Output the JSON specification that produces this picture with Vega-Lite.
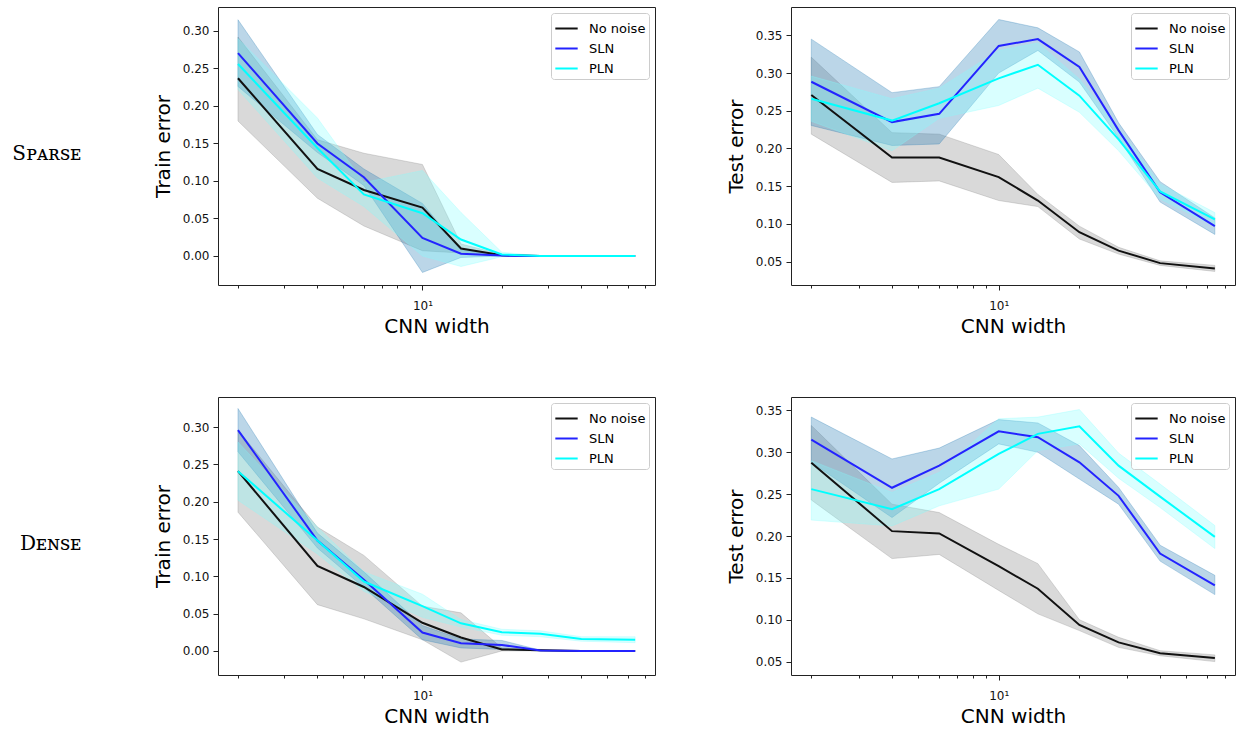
{
  "$schema": "https://vega.github.io/schema/vega-lite/v6.json",
  "padding": {"left": 11, "top": 6, "right": 0, "bottom": 3},
  "background": "white",
  "datasets": {
    "d": [
      {"p":"a","m":"No noise","w":2,"y":0.237,"lo":0.180,"hi":0.292},
      {"p":"a","m":"No noise","w":4,"y":0.116,"lo":0.077,"hi":0.155},
      {"p":"a","m":"No noise","w":6,"y":0.088,"lo":0.040,"hi":0.137},
      {"p":"a","m":"No noise","w":10,"y":0.0645,"lo":0.007,"hi":0.122},
      {"p":"a","m":"No noise","w":14,"y":0.010,"lo":0.004,"hi":0.016},
      {"p":"a","m":"No noise","w":20,"y":0.001,"lo":0.0,"hi":0.002},
      {"p":"a","m":"No noise","w":28,"y":0,"lo":0,"hi":0},
      {"p":"a","m":"No noise","w":40,"y":0,"lo":0,"hi":0},
      {"p":"a","m":"No noise","w":64,"y":0,"lo":0,"hi":0},
      {"p":"a","m":"SLN","w":2,"y":0.2706,"lo":0.226,"hi":0.315},
      {"p":"a","m":"SLN","w":4,"y":0.150,"lo":0.138,"hi":0.162},
      {"p":"a","m":"SLN","w":6,"y":0.105,"lo":0.094,"hi":0.116},
      {"p":"a","m":"SLN","w":10,"y":0.024,"lo":-0.022,"hi":0.070},
      {"p":"a","m":"SLN","w":14,"y":0.003,"lo":-0.002,"hi":0.008},
      {"p":"a","m":"SLN","w":20,"y":0.0005,"lo":0,"hi":0.001},
      {"p":"a","m":"SLN","w":28,"y":0,"lo":0,"hi":0},
      {"p":"a","m":"SLN","w":40,"y":0,"lo":0,"hi":0},
      {"p":"a","m":"SLN","w":64,"y":0,"lo":0,"hi":0},
      {"p":"a","m":"PLN","w":2,"y":0.256,"lo":0.222,"hi":0.290},
      {"p":"a","m":"PLN","w":4,"y":0.144,"lo":0.104,"hi":0.184},
      {"p":"a","m":"PLN","w":6,"y":0.082,"lo":0.066,"hi":0.098},
      {"p":"a","m":"PLN","w":10,"y":0.057,"lo":0.000,"hi":0.114},
      {"p":"a","m":"PLN","w":14,"y":0.022,"lo":-0.014,"hi":0.058},
      {"p":"a","m":"PLN","w":20,"y":0.002,"lo":-0.001,"hi":0.005},
      {"p":"a","m":"PLN","w":28,"y":0,"lo":0,"hi":0},
      {"p":"a","m":"PLN","w":40,"y":0,"lo":0,"hi":0},
      {"p":"a","m":"PLN","w":64,"y":0,"lo":0,"hi":0},

      {"p":"b","m":"No noise","w":2,"y":0.271,"lo":0.219,"hi":0.321},
      {"p":"b","m":"No noise","w":4,"y":0.188,"lo":0.155,"hi":0.221},
      {"p":"b","m":"No noise","w":6,"y":0.188,"lo":0.157,"hi":0.219},
      {"p":"b","m":"No noise","w":10,"y":0.162,"lo":0.131,"hi":0.192},
      {"p":"b","m":"No noise","w":14,"y":0.131,"lo":0.123,"hi":0.139},
      {"p":"b","m":"No noise","w":20,"y":0.089,"lo":0.080,"hi":0.097},
      {"p":"b","m":"No noise","w":28,"y":0.0646,"lo":0.060,"hi":0.069},
      {"p":"b","m":"No noise","w":40,"y":0.048,"lo":0.045,"hi":0.051},
      {"p":"b","m":"No noise","w":64,"y":0.041,"lo":0.037,"hi":0.045},
      {"p":"b","m":"SLN","w":2,"y":0.2885,"lo":0.2305,"hi":0.345},
      {"p":"b","m":"SLN","w":4,"y":0.235,"lo":0.204,"hi":0.274},
      {"p":"b","m":"SLN","w":6,"y":0.246,"lo":0.206,"hi":0.282},
      {"p":"b","m":"SLN","w":10,"y":0.336,"lo":0.300,"hi":0.371},
      {"p":"b","m":"SLN","w":14,"y":0.345,"lo":0.330,"hi":0.360},
      {"p":"b","m":"SLN","w":20,"y":0.308,"lo":0.288,"hi":0.328},
      {"p":"b","m":"SLN","w":28,"y":0.224,"lo":0.214,"hi":0.234},
      {"p":"b","m":"SLN","w":40,"y":0.142,"lo":0.129,"hi":0.156},
      {"p":"b","m":"SLN","w":64,"y":0.097,"lo":0.086,"hi":0.108},
      {"p":"b","m":"PLN","w":2,"y":0.266,"lo":0.236,"hi":0.296},
      {"p":"b","m":"PLN","w":4,"y":0.237,"lo":0.197,"hi":0.266},
      {"p":"b","m":"PLN","w":6,"y":0.260,"lo":0.240,"hi":0.280},
      {"p":"b","m":"PLN","w":10,"y":0.293,"lo":0.257,"hi":0.330},
      {"p":"b","m":"PLN","w":14,"y":0.311,"lo":0.280,"hi":0.340},
      {"p":"b","m":"PLN","w":20,"y":0.270,"lo":0.248,"hi":0.292},
      {"p":"b","m":"PLN","w":28,"y":0.212,"lo":0.197,"hi":0.227},
      {"p":"b","m":"PLN","w":40,"y":0.143,"lo":0.133,"hi":0.153},
      {"p":"b","m":"PLN","w":64,"y":0.106,"lo":0.097,"hi":0.115},

      {"p":"c","m":"No noise","w":2,"y":0.241,"lo":0.186,"hi":0.296},
      {"p":"c","m":"No noise","w":4,"y":0.114,"lo":0.062,"hi":0.166},
      {"p":"c","m":"No noise","w":6,"y":0.0857,"lo":0.043,"hi":0.128},
      {"p":"c","m":"No noise","w":10,"y":0.0377,"lo":0.015,"hi":0.060},
      {"p":"c","m":"No noise","w":14,"y":0.018,"lo":-0.015,"hi":0.051},
      {"p":"c","m":"No noise","w":20,"y":0.002,"lo":0,"hi":0.004},
      {"p":"c","m":"No noise","w":28,"y":0.001,"lo":0,"hi":0.002},
      {"p":"c","m":"No noise","w":40,"y":0,"lo":0,"hi":0},
      {"p":"c","m":"No noise","w":64,"y":0,"lo":0,"hi":0},
      {"p":"c","m":"SLN","w":2,"y":0.296,"lo":0.267,"hi":0.325},
      {"p":"c","m":"SLN","w":4,"y":0.148,"lo":0.138,"hi":0.158},
      {"p":"c","m":"SLN","w":6,"y":0.0955,"lo":0.085,"hi":0.106},
      {"p":"c","m":"SLN","w":10,"y":0.0247,"lo":0.015,"hi":0.034},
      {"p":"c","m":"SLN","w":14,"y":0.0103,"lo":0.004,"hi":0.016},
      {"p":"c","m":"SLN","w":20,"y":0.008,"lo":0.002,"hi":0.014},
      {"p":"c","m":"SLN","w":28,"y":0.0005,"lo":0,"hi":0.001},
      {"p":"c","m":"SLN","w":40,"y":0,"lo":0,"hi":0},
      {"p":"c","m":"SLN","w":64,"y":0,"lo":0,"hi":0},
      {"p":"c","m":"PLN","w":2,"y":0.241,"lo":0.202,"hi":0.280},
      {"p":"c","m":"PLN","w":4,"y":0.148,"lo":0.130,"hi":0.166},
      {"p":"c","m":"PLN","w":6,"y":0.093,"lo":0.080,"hi":0.106},
      {"p":"c","m":"PLN","w":10,"y":0.060,"lo":0.045,"hi":0.076},
      {"p":"c","m":"PLN","w":14,"y":0.037,"lo":0.032,"hi":0.042},
      {"p":"c","m":"PLN","w":20,"y":0.025,"lo":0.021,"hi":0.029},
      {"p":"c","m":"PLN","w":28,"y":0.023,"lo":0.019,"hi":0.027},
      {"p":"c","m":"PLN","w":40,"y":0.016,"lo":0.013,"hi":0.019},
      {"p":"c","m":"PLN","w":64,"y":0.015,"lo":0.011,"hi":0.019},

      {"p":"d","m":"No noise","w":2,"y":0.2875,"lo":0.243,"hi":0.332},
      {"p":"d","m":"No noise","w":4,"y":0.2058,"lo":0.173,"hi":0.238},
      {"p":"d","m":"No noise","w":6,"y":0.203,"lo":0.178,"hi":0.228},
      {"p":"d","m":"No noise","w":10,"y":0.164,"lo":0.135,"hi":0.190},
      {"p":"d","m":"No noise","w":14,"y":0.137,"lo":0.107,"hi":0.167},
      {"p":"d","m":"No noise","w":20,"y":0.0938,"lo":0.087,"hi":0.100},
      {"p":"d","m":"No noise","w":28,"y":0.073,"lo":0.067,"hi":0.079},
      {"p":"d","m":"No noise","w":40,"y":0.060,"lo":0.057,"hi":0.063},
      {"p":"d","m":"No noise","w":64,"y":0.0544,"lo":0.050,"hi":0.058},
      {"p":"d","m":"SLN","w":2,"y":0.315,"lo":0.288,"hi":0.342},
      {"p":"d","m":"SLN","w":4,"y":0.2576,"lo":0.222,"hi":0.292},
      {"p":"d","m":"SLN","w":6,"y":0.284,"lo":0.263,"hi":0.305},
      {"p":"d","m":"SLN","w":10,"y":0.325,"lo":0.310,"hi":0.339},
      {"p":"d","m":"SLN","w":14,"y":0.318,"lo":0.300,"hi":0.335},
      {"p":"d","m":"SLN","w":20,"y":0.288,"lo":0.268,"hi":0.308},
      {"p":"d","m":"SLN","w":28,"y":0.248,"lo":0.238,"hi":0.258},
      {"p":"d","m":"SLN","w":40,"y":0.179,"lo":0.170,"hi":0.189},
      {"p":"d","m":"SLN","w":64,"y":0.141,"lo":0.130,"hi":0.153},
      {"p":"d","m":"PLN","w":2,"y":0.256,"lo":0.219,"hi":0.290},
      {"p":"d","m":"PLN","w":4,"y":0.232,"lo":0.212,"hi":0.252},
      {"p":"d","m":"PLN","w":6,"y":0.256,"lo":0.236,"hi":0.276},
      {"p":"d","m":"PLN","w":10,"y":0.298,"lo":0.256,"hi":0.340},
      {"p":"d","m":"PLN","w":14,"y":0.322,"lo":0.302,"hi":0.342},
      {"p":"d","m":"PLN","w":20,"y":0.331,"lo":0.310,"hi":0.351},
      {"p":"d","m":"PLN","w":28,"y":0.284,"lo":0.269,"hi":0.299},
      {"p":"d","m":"PLN","w":40,"y":0.247,"lo":0.234,"hi":0.262},
      {"p":"d","m":"PLN","w":64,"y":0.199,"lo":0.185,"hi":0.2125}
    ]
  },
  "data": {"name": "d"},
  "spacing": 59,
  "resolve": {"legend": {"color": "independent"}},
  "vconcat": [
    {
      "spacing": 69,
      "resolve": {"legend": {"color": "independent"}},
      "hconcat": [
        {
          "width": 437, "height": 278,
          "title": {"text": "Sᴘᴀʀsᴇ", "orient": "left", "angle": 0, "align": "left", "baseline": "alphabetic", "anchor": "middle", "frame": "group", "offset": 72, "dy": 14, "font": "DejaVu Serif", "fontSize": 20, "fontWeight": "normal", "color": "#000"},
          "transform": [{"filter": "datum.p == 'a'"}],
          "encoding": {"x": {"field": "w", "type": "quantitative", "title": "CNN width", "scale": {"type": "log", "domain": [1.68, 76.1], "nice": false},
            "axis": {"values": [2,3,4,5,6,7,8,9,10,20,30,40,50,60,70], "labelExpr": "datum.value == 10 ? '10¹' : ''", "tickSize": {"condition": {"test": "datum.value == 10", "value": 5}, "value": 3}, "labelOverlap": false, "labelFlush": false, "labelPadding": 10, "titlePadding": 5}}},
          "layer": [
            {"mark": {"type": "area", "clip": true, "strokeWidth": 0.8, "fillOpacity": 0.3, "strokeOpacity": 0.35},
             "encoding": {
               "y": {"field": "lo", "type": "quantitative", "title": "Train error", "scale": {"domain": [-0.0387, 0.332], "nice": false, "zero": false}, "axis": {"values": [0,0.05,0.1,0.15,0.2,0.25,0.3], "format": ".2f"}},
               "y2": {"field": "hi"},
               "fill": {"field": "m", "type": "nominal", "scale": {"domain": ["No noise","SLN","PLN"], "range": ["#808080","#1f77b4","#80ffff"]}, "legend": null},
               "stroke": {"field": "m", "type": "nominal", "scale": {"domain": ["No noise","SLN","PLN"], "range": ["#808080","#1f77b4","#80ffff"]}, "legend": null}
             }},
            {"mark": {"type": "line", "strokeWidth": 2, "clip": true},
             "encoding": {
               "y": {"field": "y", "type": "quantitative", "title": "Train error"},
               "color": {"field": "m", "type": "nominal", "scale": {"domain": ["No noise","SLN","PLN"], "range": ["#111111","#2323ff","#00ffff"]}, "legend": {"title": null}}
             }}
          ]
        },
        {
          "width": 444, "height": 278,
          "transform": [{"filter": "datum.p == 'b'"}],
          "encoding": {"x": {"field": "w", "type": "quantitative", "title": "CNN width", "scale": {"type": "log", "domain": [1.68, 76.1], "nice": false},
            "axis": {"values": [2,3,4,5,6,7,8,9,10,20,30,40,50,60,70], "labelExpr": "datum.value == 10 ? '10¹' : ''", "tickSize": {"condition": {"test": "datum.value == 10", "value": 5}, "value": 3}, "labelOverlap": false, "labelFlush": false, "labelPadding": 10, "titlePadding": 5}}},
          "layer": [
            {"mark": {"type": "area", "clip": true, "strokeWidth": 0.8, "fillOpacity": 0.3, "strokeOpacity": 0.35},
             "encoding": {
               "y": {"field": "lo", "type": "quantitative", "title": "Test error", "scale": {"domain": [0.019, 0.3876], "nice": false, "zero": false}, "axis": {"values": [0.05,0.1,0.15,0.2,0.25,0.3,0.35], "format": ".2f"}},
               "y2": {"field": "hi"},
               "fill": {"field": "m", "type": "nominal", "scale": {"domain": ["No noise","SLN","PLN"], "range": ["#808080","#1f77b4","#80ffff"]}, "legend": null},
               "stroke": {"field": "m", "type": "nominal", "scale": {"domain": ["No noise","SLN","PLN"], "range": ["#808080","#1f77b4","#80ffff"]}, "legend": null}
             }},
            {"mark": {"type": "line", "strokeWidth": 2, "clip": true},
             "encoding": {
               "y": {"field": "y", "type": "quantitative", "title": "Test error"},
               "color": {"field": "m", "type": "nominal", "scale": {"domain": ["No noise","SLN","PLN"], "range": ["#111111","#2323ff","#00ffff"]}, "legend": {"title": null}}
             }}
          ]
        }
      ]
    },
    {
      "spacing": 69,
      "resolve": {"legend": {"color": "independent"}},
      "hconcat": [
        {
          "width": 437, "height": 278,
          "title": {"text": "Dᴇɴsᴇ", "orient": "left", "angle": 0, "align": "left", "baseline": "alphabetic", "anchor": "middle", "frame": "group", "offset": 72, "dy": 14, "font": "DejaVu Serif", "fontSize": 20, "fontWeight": "normal", "color": "#000"},
          "transform": [{"filter": "datum.p == 'c'"}],
          "encoding": {"x": {"field": "w", "type": "quantitative", "title": "CNN width", "scale": {"type": "log", "domain": [1.68, 76.1], "nice": false},
            "axis": {"values": [2,3,4,5,6,7,8,9,10,20,30,40,50,60,70], "labelExpr": "datum.value == 10 ? '10¹' : ''", "tickSize": {"condition": {"test": "datum.value == 10", "value": 5}, "value": 3}, "labelOverlap": false, "labelFlush": false, "labelPadding": 10, "titlePadding": 5}}},
          "layer": [
            {"mark": {"type": "area", "clip": true, "strokeWidth": 0.8, "fillOpacity": 0.3, "strokeOpacity": 0.35},
             "encoding": {
               "y": {"field": "lo", "type": "quantitative", "title": "Train error", "scale": {"domain": [-0.0323, 0.3404], "nice": false, "zero": false}, "axis": {"values": [0,0.05,0.1,0.15,0.2,0.25,0.3], "format": ".2f"}},
               "y2": {"field": "hi"},
               "fill": {"field": "m", "type": "nominal", "scale": {"domain": ["No noise","SLN","PLN"], "range": ["#808080","#1f77b4","#80ffff"]}, "legend": null},
               "stroke": {"field": "m", "type": "nominal", "scale": {"domain": ["No noise","SLN","PLN"], "range": ["#808080","#1f77b4","#80ffff"]}, "legend": null}
             }},
            {"mark": {"type": "line", "strokeWidth": 2, "clip": true},
             "encoding": {
               "y": {"field": "y", "type": "quantitative", "title": "Train error"},
               "color": {"field": "m", "type": "nominal", "scale": {"domain": ["No noise","SLN","PLN"], "range": ["#111111","#2323ff","#00ffff"]}, "legend": {"title": null}}
             }}
          ]
        },
        {
          "width": 444, "height": 278,
          "transform": [{"filter": "datum.p == 'd'"}],
          "encoding": {"x": {"field": "w", "type": "quantitative", "title": "CNN width", "scale": {"type": "log", "domain": [1.68, 76.1], "nice": false},
            "axis": {"values": [2,3,4,5,6,7,8,9,10,20,30,40,50,60,70], "labelExpr": "datum.value == 10 ? '10¹' : ''", "tickSize": {"condition": {"test": "datum.value == 10", "value": 5}, "value": 3}, "labelOverlap": false, "labelFlush": false, "labelPadding": 10, "titlePadding": 5}}},
          "layer": [
            {"mark": {"type": "area", "clip": true, "strokeWidth": 0.8, "fillOpacity": 0.3, "strokeOpacity": 0.35},
             "encoding": {
               "y": {"field": "lo", "type": "quantitative", "title": "Test error", "scale": {"domain": [0.034, 0.366], "nice": false, "zero": false}, "axis": {"values": [0.05,0.1,0.15,0.2,0.25,0.3,0.35], "format": ".2f"}},
               "y2": {"field": "hi"},
               "fill": {"field": "m", "type": "nominal", "scale": {"domain": ["No noise","SLN","PLN"], "range": ["#808080","#1f77b4","#80ffff"]}, "legend": null},
               "stroke": {"field": "m", "type": "nominal", "scale": {"domain": ["No noise","SLN","PLN"], "range": ["#808080","#1f77b4","#80ffff"]}, "legend": null}
             }},
            {"mark": {"type": "line", "strokeWidth": 2, "clip": true},
             "encoding": {
               "y": {"field": "y", "type": "quantitative", "title": "Test error"},
               "color": {"field": "m", "type": "nominal", "scale": {"domain": ["No noise","SLN","PLN"], "range": ["#111111","#2323ff","#00ffff"]}, "legend": {"title": null}}
             }}
          ]
        }
      ]
    }
  ],
  "config": {
    "font": "DejaVu Sans",
    "view": {"stroke": "#222222", "strokeWidth": 1},
    "axis": {"domain": false, "grid": false, "labelFont": "DejaVu Sans", "labelFontSize": 12, "labelColor": "#111111", "tickColor": "#222222", "tickSize": 5, "labelPadding": 4, "titleFont": "DejaVu Sans", "titleFontSize": 20, "titleFontWeight": "normal", "titleColor": "#000000", "titlePadding": 9},
    "legend": {"orient": "top-right", "offset": 6, "padding": 3, "fillColor": "rgba(255,255,255,0.85)", "strokeColor": "#cccccc", "cornerRadius": 3, "labelFont": "DejaVu Sans", "labelFontSize": 13, "labelColor": "#000000", "symbolType": "stroke", "symbolStrokeWidth": 2, "symbolSize": 500, "rowPadding": -3, "labelOffset": 10}
  }
}
